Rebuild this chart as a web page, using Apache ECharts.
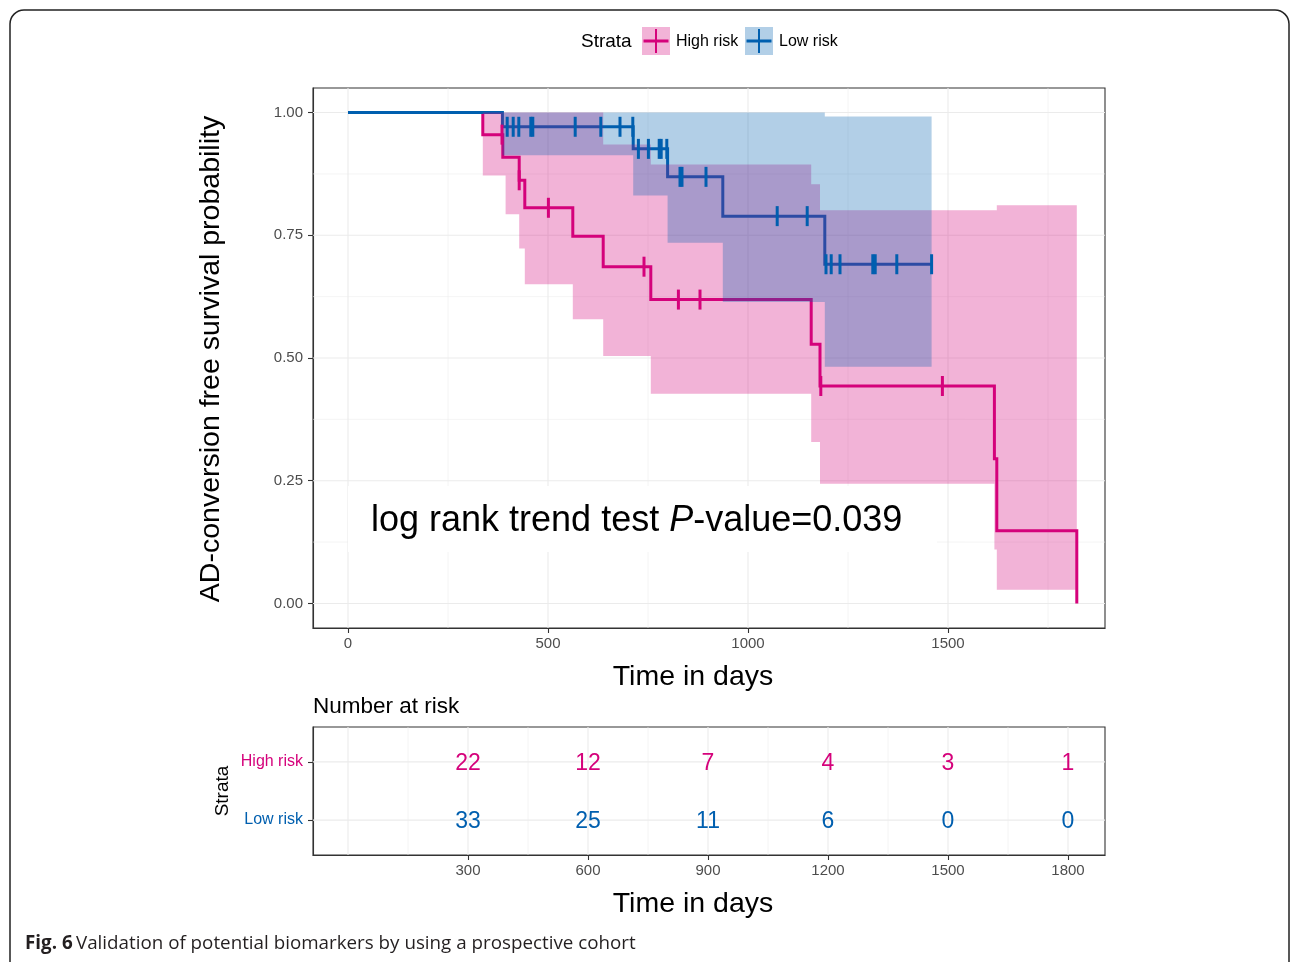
<!DOCTYPE html>
<html>
<head>
<meta charset="utf-8">
<script src="https://cdn.jsdelivr.net/npm/echarts@6/dist/echarts.min.js"></script>
<style>
html,body{margin:0;padding:0;background:#ffffff;}
#chart{width:1290px;height:962px;}
</style>
</head>
<body>
<div id="chart"></div>
<script>
// ---------------- data ----------------
// High risk Kaplan-Meier curve
const highTimes = [0, 337, 387, 428, 442, 562, 638, 757, 1158, 1180, 1616, 1622, 1822];
const highSurv  = [1, 0.955, 0.909, 0.862, 0.806, 0.748, 0.686, 0.619, 0.528, 0.443, 0.295, 0.148, 0];
const highCensorTimes = [385, 428, 501, 740, 826, 880, 1182, 1486];
const highCensorSurv  = [0.955, 0.862, 0.806, 0.686, 0.619, 0.619, 0.443, 0.443];
// High risk confidence band
const highCiTimes = [337, 394, 428, 442, 562, 638, 757, 1158, 1180, 1616, 1622, 1822];
const highCiLower = [0.872, 0.793, 0.723, 0.650, 0.579, 0.504, 0.427, 0.329, 0.244, 0.110, 0.028, 0.028];
const highCiUpper = [1, 1, 1, 1, 1, 0.935, 0.894, 0.854, 0.801, 0.801, 0.811, 0.811];

// Low risk Kaplan-Meier curve
const lowTimes = [0, 386, 713, 799, 937, 1192, 1459];
const lowSurv  = [1, 0.971, 0.926, 0.869, 0.789, 0.691, 0.691];
const lowCensorTimes = [398, 413, 427, 457, 462, 568, 632, 680, 712,
                        726, 751, 778, 783, 797,
                        830, 835, 895,
                        1073, 1148,
                        1195, 1208, 1230, 1312, 1318, 1372, 1459];
const lowCensorSurv  = [0.971, 0.971, 0.971, 0.971, 0.971, 0.971, 0.971, 0.971, 0.971,
                        0.926, 0.926, 0.926, 0.926, 0.926,
                        0.869, 0.869, 0.869,
                        0.789, 0.789,
                        0.691, 0.691, 0.691, 0.691, 0.691, 0.691, 0.691];
// Low risk confidence band
const lowCiTimes = [386, 713, 799, 937, 1192, 1459];
const lowCiLower = [0.913, 0.831, 0.735, 0.614, 0.482, 0.482];
const lowCiUpper = [1, 1, 1, 1, 0.992, 0.992];

// axes
const survXTicks = [0, 500, 1000, 1500];
const survXMinor = [250, 750, 1250, 1750];
const survYTicks = [0, 0.25, 0.5, 0.75, 1];
const survYMinor = [0.125, 0.375, 0.625, 0.875];

// Number at risk table
const riskTimes = [300, 600, 900, 1200, 1500, 1800];
const riskHigh = [22, 12, 7, 4, 3, 1];
const riskLow  = [33, 25, 11, 6, 0, 0];
const riskGridMajor = [0, 300, 600, 900, 1200, 1500, 1800];
const riskGridMinor = [150, 450, 750, 1050, 1350, 1650];
const strataNames = ['Low risk', 'High risk'];

// ---------------- styles ----------------
const PINK = '#D5027B';
const BLUE = '#005FAF';
const PINK_FILL = 'rgba(212,2,122,0.3)';
const BLUE_FILL = 'rgba(0,95,175,0.3)';
const GRID = '#EBEBEB';
const FONT = "'Liberation Sans', Arial, sans-serif";
const TICKCOL = '#4D4D4D';

const X_MIN = -87.5, X_MAX = 1892.5;
const Y_MIN = -0.05, Y_MAX = 1.05;
const R_MIN = 0.4, R_MAX = 2.6;

function zip(a, b) { return a.map((v, i) => [v, b[i]]); }

function ribbon(times, lower, upper, fill, z) {
  return {
    type: 'custom', xAxisIndex: 0, yAxisIndex: 0, z: z, silent: true, clip: true,
    data: times.map((t, i) => [t, lower[i], upper[i]]),
    renderItem: function (params, api) {
      if (params.dataIndex !== 0) return null;
      const n = times.length;
      const pts = [];
      for (let i = 0; i < n - 1; i++) {
        pts.push(api.coord([times[i], upper[i]]));
        pts.push(api.coord([times[i + 1], upper[i]]));
      }
      for (let i = n - 2; i >= 0; i--) {
        pts.push(api.coord([times[i + 1], lower[i]]));
        pts.push(api.coord([times[i], lower[i]]));
      }
      return { type: 'polygon', shape: { points: pts }, style: { fill: fill, stroke: null, lineWidth: 0 } };
    }
  };
}

// grid lines as a custom series: each item = [orientation (0 vertical / 1 horizontal), value, width]
function gridLines(xi, yi, xr, yr, vMajor, vMinor, hMajor, hMinor) {
  const items = [];
  vMajor.forEach(v => items.push([0, v, 1.1]));
  vMinor.forEach(v => items.push([0, v, 0.55]));
  hMajor.forEach(v => items.push([1, v, 1.1]));
  hMinor.forEach(v => items.push([1, v, 0.55]));
  return {
    type: 'custom', xAxisIndex: xi, yAxisIndex: yi, z: 1, silent: true, clip: true,
    encode: { x: -1, y: -1 },
    data: items,
    renderItem: function (params, api) {
      const o = api.value(0), v = api.value(1), w = api.value(2);
      let p1, p2;
      if (o === 0) { p1 = api.coord([v, yr[0]]); p2 = api.coord([v, yr[1]]); }
      else { p1 = api.coord([xr[0], v]); p2 = api.coord([xr[1], v]); }
      return { type: 'line', shape: { x1: p1[0], y1: p1[1], x2: p2[0], y2: p2[1] }, style: { stroke: GRID, lineWidth: w } };
    }
  };
}

const chart = echarts.init(document.getElementById('chart'), null, { renderer: 'canvas' });

const axisLineStyle = { show: true, onZero: false, lineStyle: { color: '#333333', width: 1.1 } };

function riskLabel(color) {
  return {
    show: true, position: 'inside', offset: [0, 2],
    formatter: p => String(p.value[2]),
    color: color, textBorderWidth: 0, textBorderColor: 'transparent',
    fontSize: 23, fontFamily: FONT
  };
}

const option = {
  animation: false,
  backgroundColor: '#ffffff',
  grid: [
    { left: 313, top: 88, width: 792, height: 540, show: true, borderColor: '#333333', borderWidth: 1.1, backgroundColor: 'transparent', containLabel: false },
    { left: 313, top: 727, width: 792, height: 128, show: true, borderColor: '#333333', borderWidth: 1.1, backgroundColor: 'transparent', containLabel: false }
  ],
  xAxis: [
    {
      gridIndex: 0, type: 'value', min: X_MIN, max: X_MAX,
      splitLine: { show: false },
      axisLine: axisLineStyle,
      axisTick: { show: true, length: 5, customValues: survXTicks, lineStyle: { color: '#333333', width: 1.1 } },
      axisLabel: { customValues: survXTicks, formatter: v => String(v), fontSize: 15, color: TICKCOL, margin: 8, fontFamily: FONT }
    },
    {
      gridIndex: 1, type: 'value', min: X_MIN, max: X_MAX,
      splitLine: { show: false },
      axisLine: axisLineStyle,
      axisTick: { show: true, length: 5, customValues: riskTimes, lineStyle: { color: '#333333', width: 1.1 } },
      axisLabel: { customValues: riskTimes, formatter: v => String(v), fontSize: 15, color: TICKCOL, margin: 8, fontFamily: FONT }
    }
  ],
  yAxis: [
    {
      gridIndex: 0, type: 'value', min: Y_MIN, max: Y_MAX,
      splitLine: { show: false },
      axisLine: axisLineStyle,
      axisTick: { show: true, length: 5, customValues: survYTicks, lineStyle: { color: '#333333', width: 1.1 } },
      axisLabel: { customValues: survYTicks, formatter: v => Number(v).toFixed(2), fontSize: 15, color: TICKCOL, margin: 10, fontFamily: FONT }
    },
    {
      gridIndex: 1, type: 'value', min: R_MIN, max: R_MAX,
      splitLine: { show: false },
      axisLine: axisLineStyle,
      axisTick: { show: true, length: 5, customValues: [1, 2], lineStyle: { color: '#333333', width: 1.1 } },
      axisLabel: {
        customValues: [1, 2],
        formatter: v => strataNames[Math.round(v) - 1],
        color: v => (Math.round(v) === 2 ? PINK : BLUE),
        fontSize: 16, margin: 10, fontFamily: FONT
      }
    }
  ],
  series: [
    gridLines(0, 0, [X_MIN, X_MAX], [Y_MIN, Y_MAX], survXTicks, survXMinor, survYTicks, survYMinor),
    gridLines(1, 1, [X_MIN, X_MAX], [R_MIN, R_MAX], riskGridMajor, riskGridMinor, [1, 2], []),
    {
      type: 'line', name: 'High risk', xAxisIndex: 0, yAxisIndex: 0, z: 2,
      step: 'end', showSymbol: false, symbol: 'none', silent: true,
      lineStyle: { color: PINK, width: 3, join: 'miter', cap: 'butt' },
      data: zip(highTimes, highSurv)
    },
    {
      type: 'line', name: 'Low risk', xAxisIndex: 0, yAxisIndex: 0, z: 2,
      step: 'end', showSymbol: false, symbol: 'none', silent: true,
      lineStyle: { color: BLUE, width: 3, join: 'miter', cap: 'butt' },
      data: zip(lowTimes, lowSurv)
    },
    ribbon(highCiTimes, highCiLower, highCiUpper, PINK_FILL, 3),
    ribbon(lowCiTimes, lowCiLower, lowCiUpper, BLUE_FILL, 4),
    {
      type: 'scatter', xAxisIndex: 0, yAxisIndex: 0, z: 5, silent: true,
      symbol: 'rect', symbolSize: [3, 20], itemStyle: { color: PINK, opacity: 1 },
      data: zip(highCensorTimes, highCensorSurv)
    },
    {
      type: 'scatter', xAxisIndex: 0, yAxisIndex: 0, z: 5, silent: true,
      symbol: 'rect', symbolSize: [3, 20], itemStyle: { color: BLUE, opacity: 1 },
      data: zip(lowCensorTimes, lowCensorSurv)
    },
    {
      type: 'scatter', xAxisIndex: 1, yAxisIndex: 1, z: 5, silent: true,
      symbol: 'rect', symbolSize: 1, itemStyle: { color: 'rgba(0,0,0,0)', opacity: 1 },
      label: riskLabel(PINK),
      data: riskTimes.map((t, i) => [t, 2, riskHigh[i]])
    },
    {
      type: 'scatter', xAxisIndex: 1, yAxisIndex: 1, z: 5, silent: true,
      symbol: 'rect', symbolSize: 1, itemStyle: { color: 'rgba(0,0,0,0)', opacity: 1 },
      label: riskLabel(BLUE),
      data: riskTimes.map((t, i) => [t, 1, riskLow[i]])
    }
  ],
  graphic: [
    // outer frame
    { type: 'rect', z: 50, silent: true, shape: { x: 10, y: 10, width: 1279, height: 1000, r: 14 }, style: { fill: 'none', stroke: '#222222', lineWidth: 1.5 } },
    // legend
    { type: 'text', z: 50, silent: true, x: 581, y: 42, style: { text: 'Strata', fontSize: 19, fontFamily: FONT, fill: '#000', verticalAlign: 'middle', align: 'left' } },
    { type: 'rect', z: 50, silent: true, shape: { x: 642, y: 27, width: 28, height: 28 }, style: { fill: PINK_FILL } },
    { type: 'line', z: 51, silent: true, shape: { x1: 643.5, y1: 41, x2: 668.5, y2: 41 }, style: { stroke: PINK, lineWidth: 3 } },
    { type: 'line', z: 51, silent: true, shape: { x1: 656, y1: 29, x2: 656, y2: 53 }, style: { stroke: PINK, lineWidth: 2 } },
    { type: 'text', z: 50, silent: true, x: 676, y: 42, style: { text: 'High risk', fontSize: 16, fontFamily: FONT, fill: '#000', verticalAlign: 'middle', align: 'left' } },
    { type: 'rect', z: 50, silent: true, shape: { x: 745, y: 27, width: 28, height: 28 }, style: { fill: BLUE_FILL } },
    { type: 'line', z: 51, silent: true, shape: { x1: 746.5, y1: 41, x2: 771.5, y2: 41 }, style: { stroke: BLUE, lineWidth: 3 } },
    { type: 'line', z: 51, silent: true, shape: { x1: 759, y1: 29, x2: 759, y2: 53 }, style: { stroke: BLUE, lineWidth: 2 } },
    { type: 'text', z: 50, silent: true, x: 779, y: 42, style: { text: 'Low risk', fontSize: 16, fontFamily: FONT, fill: '#000', verticalAlign: 'middle', align: 'left' } },
    // axis titles
    { type: 'text', z: 50, silent: true, x: 211, y: 359, rotation: Math.PI / 2, style: { text: 'AD-conversion free survival probability', fontSize: 28.5, fontFamily: FONT, fill: '#000', align: 'center', verticalAlign: 'middle' } },
    { type: 'text', z: 50, silent: true, x: 693, y: 677, style: { text: 'Time in days', fontSize: 28.5, fontFamily: FONT, fill: '#000', align: 'center', verticalAlign: 'middle' } },
    { type: 'text', z: 50, silent: true, x: 313, y: 707, style: { text: 'Number at risk', fontSize: 22.5, fontFamily: FONT, fill: '#000', align: 'left', verticalAlign: 'middle' } },
    { type: 'text', z: 50, silent: true, x: 223, y: 791, rotation: Math.PI / 2, style: { text: 'Strata', fontSize: 19, fontFamily: FONT, fill: '#000', align: 'center', verticalAlign: 'middle' } },
    { type: 'text', z: 50, silent: true, x: 693, y: 904, style: { text: 'Time in days', fontSize: 28.5, fontFamily: FONT, fill: '#000', align: 'center', verticalAlign: 'middle' } },
    // annotation
    { type: 'rect', z: 40, silent: true, shape: { x: 348, y: 486, width: 589, height: 66 }, style: { fill: '#ffffff' } },
    { type: 'text', z: 41, silent: true, x: 371, y: 521, style: {
        text: '{n|log rank trend test }{i|P}{n|-value=0.039}',
        verticalAlign: 'middle', align: 'left',
        rich: {
          n: { fontSize: 36, fontFamily: FONT, fill: '#000' },
          i: { fontSize: 36, fontFamily: FONT, fontStyle: 'italic', fill: '#000' }
        }
    } },
    // caption
    { type: 'text', z: 50, silent: true, x: 25, y: 944, style: {
        text: '{b|Fig. 6} {r|Validation of potential biomarkers by using a prospective cohort}',
        verticalAlign: 'middle', align: 'left',
        rich: {
          b: { fontSize: 18.8, fontFamily: "'Open Sans'", fontWeight: 'bold', fill: '#231F20' },
          r: { fontSize: 18.8, fontFamily: "'Open Sans'", fill: '#231F20' }
        }
    } }
  ]
};

chart.setOption(option);
</script>
</body>
</html>
